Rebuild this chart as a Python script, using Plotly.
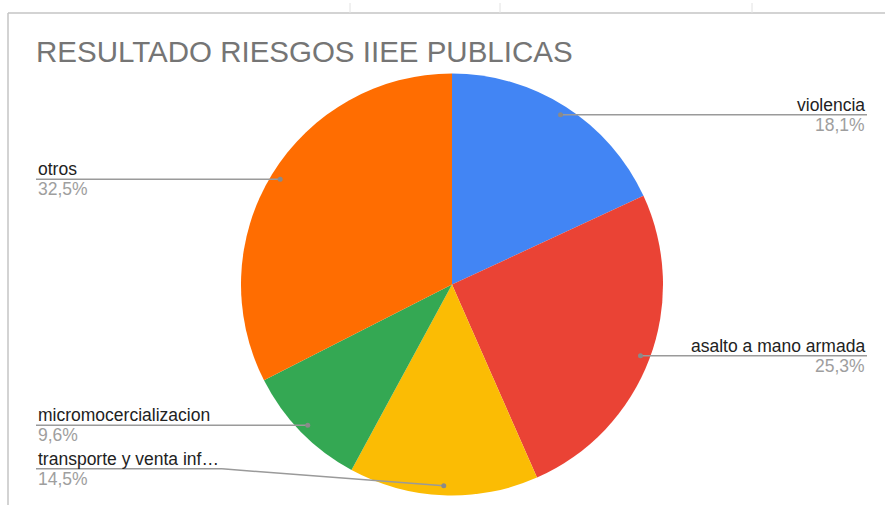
import math
import plotly.graph_objects as go

# ---- data ----
categories = ["violencia", "asalto a mano armada", "transporte y venta inf…",
              "micromocercializacion", "otros"]
values = [18.1, 25.3, 14.5, 9.6, 32.5]
pct_labels = ["18,1%", "25,3%", "14,5%", "9,6%", "32,5%"]
colors = ["#4285F4", "#EA4335", "#FBBC04", "#34A853", "#FF6D01"]
title_text = "RESULTADO RIESGOS IIEE PUBLICAS"

# ---- layout parameters (pixels) ----
W, H = 885, 505
CX, CY, R = 452, 284.5, 211
DOT_F = 0.955
label_side = ["right", "right", "left", "left", "left"]
label_dy = [0, 0, -17, 0, 0]
label_knee = [None, None, 222, None, None]
RIGHT_X, LEFT_X = 867, 36
LABEL_FONT = 17.5


def px(x):
    return x / W


def py(y):
    return 1 - y / H


fig = go.Figure()
fig.add_trace(go.Pie(
    labels=categories, values=values, sort=False, direction="clockwise",
    rotation=0, textinfo="none", hoverinfo="label+percent",
    marker=dict(colors=colors, line=dict(width=0)),
    domain=dict(x=[px(CX - R), px(CX + R)], y=[py(CY + R), py(CY - R)]),
    showlegend=False,
))

shapes = []
annotations = []

# frame (spreadsheet chart border)
shapes.append(dict(type="line", xref="paper", yref="paper", x0=px(8), x1=1.0,
                   y0=py(13), y1=py(13), line=dict(color="#c4c4c4", width=1.5)))
shapes.append(dict(type="line", xref="paper", yref="paper", x0=px(8), x1=px(8),
                   y0=py(13), y1=0, line=dict(color="#c4c4c4", width=1.5)))
for gx in [350, 500, 752]:
    shapes.append(dict(type="line", xref="paper", yref="paper", x0=px(gx), x1=px(gx),
                       y0=py(3), y1=py(13), line=dict(color="#e2e2e2", width=1)))

total = sum(values)
cum = 0.0
for i, v in enumerate(values):
    mid = (cum + v / 2) / total * 2 * math.pi
    cum += v
    dx = CX + DOT_F * R * math.sin(mid)
    dy = CY - DOT_F * R * math.cos(mid)
    ly = dy + label_dy[i]
    lx = RIGHT_X if label_side[i] == "right" else LEFT_X
    knee = label_knee[i] if label_knee[i] is not None else dx
    shapes.append(dict(type="line", xref="paper", yref="paper",
                       x0=px(lx), x1=px(knee), y0=py(ly), y1=py(ly),
                       line=dict(color="#9a9a9a", width=1.5)))
    if label_knee[i] is not None:
        shapes.append(dict(type="line", xref="paper", yref="paper",
                           x0=px(knee), x1=px(dx), y0=py(ly), y1=py(dy),
                           line=dict(color="#9a9a9a", width=1.5)))
    shapes.append(dict(type="circle", xref="paper", yref="paper",
                       x0=px(dx - 2.5), x1=px(dx + 2.5), y0=py(dy + 2.5), y1=py(dy - 2.5),
                       fillcolor="#8a8a8a", line=dict(width=0)))
    anchor = "right" if label_side[i] == "right" else "left"
    annotations.append(dict(xref="paper", yref="paper", x=px(lx), y=py(ly - 10),
                            xanchor=anchor, yanchor="middle", showarrow=False,
                            text=categories[i],
                            font=dict(family="Liberation Sans, Arial", size=LABEL_FONT,
                                      color="#222222")))
    annotations.append(dict(xref="paper", yref="paper", x=px(lx), y=py(ly + 10),
                            xanchor=anchor, yanchor="middle", showarrow=False,
                            text=pct_labels[i],
                            font=dict(family="Liberation Sans, Arial", size=LABEL_FONT,
                                      color="#9e9e9e")))

annotations.append(dict(xref="paper", yref="paper", x=px(34), y=py(52),
                        xanchor="left", yanchor="middle", showarrow=False,
                        text=title_text,
                        font=dict(family="Liberation Sans, Arial", size=29.5,
                                  color="#757575")))

fig.update_layout(
    width=W, height=H, margin=dict(l=0, r=0, t=0, b=0),
    paper_bgcolor="white", plot_bgcolor="white",
    shapes=shapes, annotations=annotations,
)

fig.write_html("out.html", config={"displayModeBar": False},
               post_script="document.body.style.margin='0';document.body.style.overflow='hidden';")
